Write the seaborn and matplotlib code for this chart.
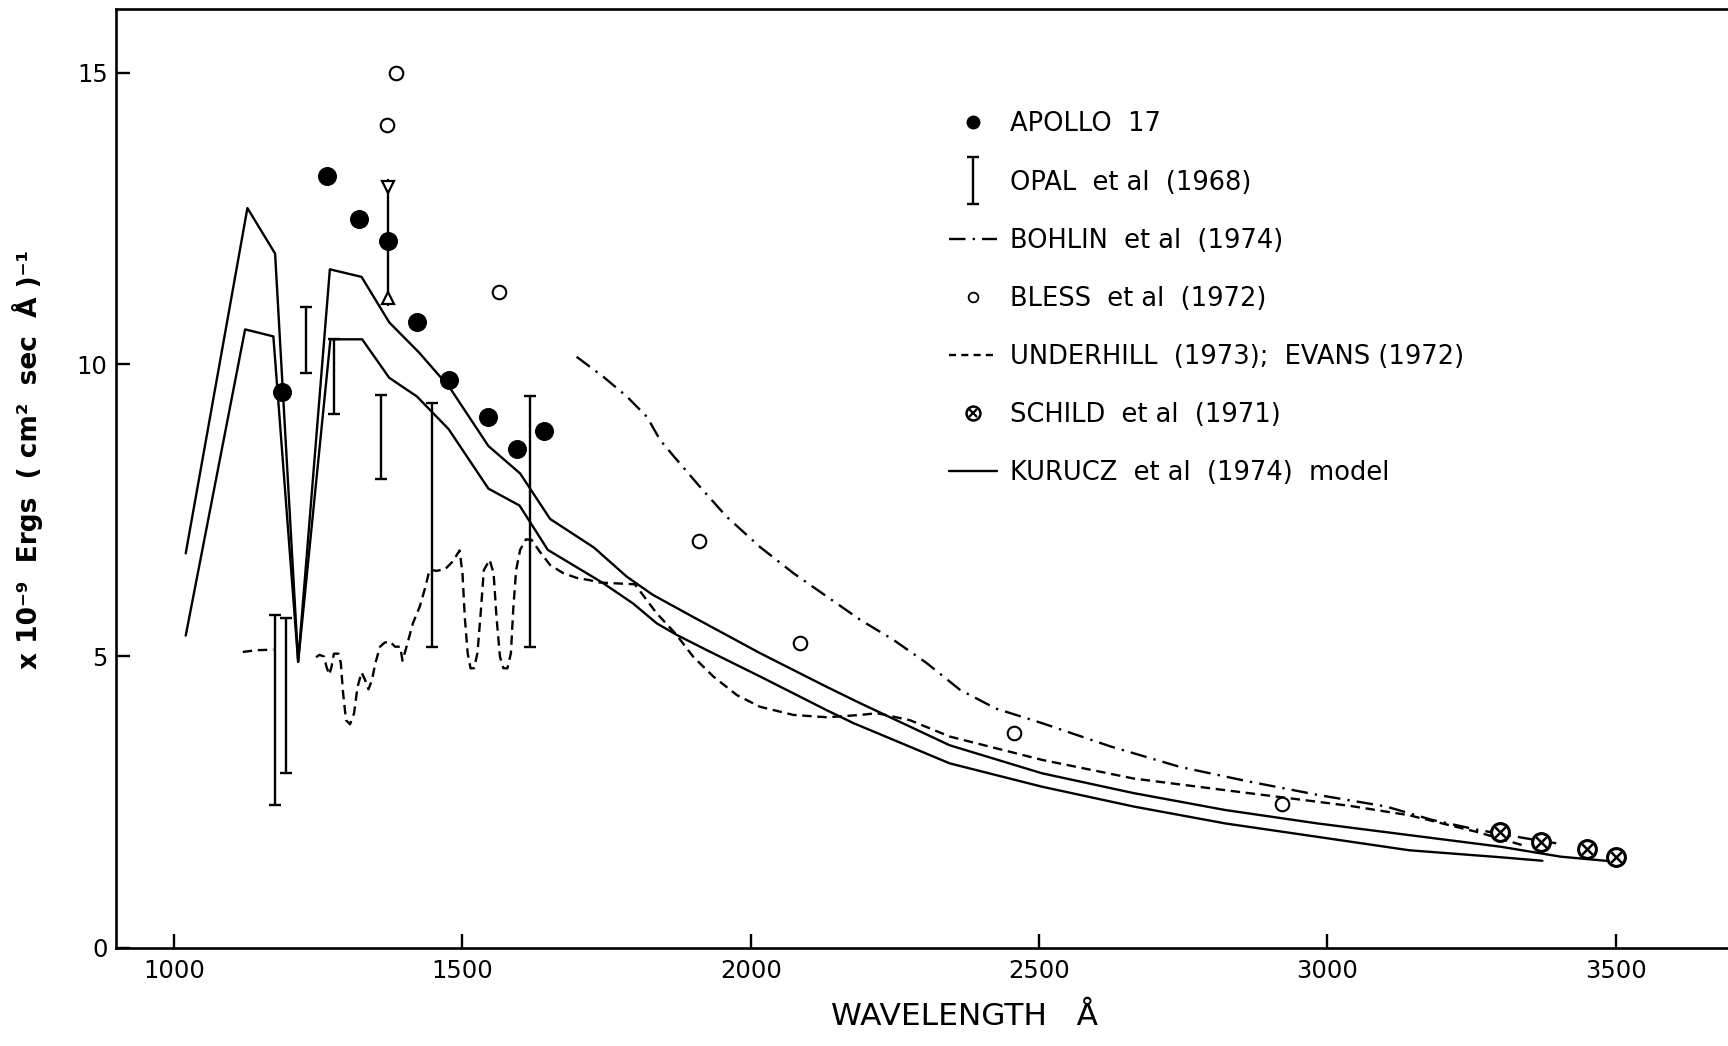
import numpy as np
import pandas as pd
import matplotlib
matplotlib.use("Agg")
import matplotlib.pyplot as plt
from matplotlib.lines import Line2D
from matplotlib.container import ErrorbarContainer
from matplotlib.legend_handler import HandlerErrorbar, HandlerTuple
import seaborn as sns

# ---- Kurucz et al (1974) model fluxes (two model curves) ----
kurucz_hi_wl = [1020, 1127, 1175, 1215, 1270, 1325, 1373, 1425, 1478, 1545, 1600,
                1652, 1728, 1785, 1830, 1900, 2016, 2132, 2190, 2345, 2505, 2664,
                2823, 2983, 3142, 3301, 3405, 3505]
kurucz_hi_flux = [6.76, 12.68, 11.9, 4.9, 11.63, 11.5, 10.72, 10.2, 9.6, 8.6, 8.13,
                  7.35, 6.86, 6.36, 6.05, 5.67, 5.05, 4.47, 4.19, 3.47, 2.99, 2.65,
                  2.36, 2.13, 1.93, 1.73, 1.56, 1.47]

kurucz_lo_wl = [1020, 1123, 1172, 1215, 1271, 1326, 1373, 1421, 1476, 1545, 1599,
                1648, 1744, 1796, 1837, 1872, 1924, 2016, 2132, 2178, 2345, 2505,
                2664, 2823, 2983, 3142, 3301, 3373]
kurucz_lo_flux = [5.35, 10.6, 10.48, 4.9, 10.43, 10.43, 9.77, 9.45, 8.89, 7.87, 7.58,
                  6.82, 6.25, 5.9, 5.56, 5.36, 5.10, 4.65, 4.07, 3.85, 3.16, 2.76,
                  2.42, 2.13, 1.90, 1.67, 1.55, 1.49]

# ---- Underhill (1973); Evans (1972): short piece below Ly-alpha, then main run ----
underhill_a_wl = [1119, 1143, 1172]
underhill_a_flux = [5.07, 5.10, 5.11]

underhill_b_wl = [1246, 1252, 1260, 1264, 1269, 1273, 1277, 1285, 1289, 1293, 1298,
                  1305, 1312, 1318, 1325, 1331, 1337, 1343, 1349, 1357, 1365, 1374,
                  1383, 1392, 1396, 1403, 1414, 1426, 1435, 1443, 1455, 1470, 1483,
                  1495, 1500, 1504, 1509, 1514, 1520, 1526, 1532, 1537, 1547, 1554,
                  1559, 1565, 1571, 1578, 1584, 1588, 1593, 1600, 1610, 1620, 1634,
                  1652, 1675, 1698, 1721, 1738, 1799, 1837, 1869, 1900, 1935, 1976,
                  2016, 2074, 2132, 2190, 2219, 2276, 2345, 2505, 2664, 2823, 2920,
                  3040, 3142, 3261, 3341]
underhill_b_flux = [4.98, 5.02, 4.99, 4.82, 4.68, 4.82, 5.04, 5.04, 4.88, 4.36, 3.90,
                    3.83, 4.02, 4.47, 4.72, 4.59, 4.43, 4.59, 4.88, 5.16, 5.23, 5.25,
                    5.16, 5.16, 4.92, 5.16, 5.56, 5.85, 6.16, 6.48, 6.46, 6.49, 6.62,
                    6.81, 6.42, 5.67, 5.05, 4.79, 4.79, 5.05, 5.79, 6.47, 6.65, 6.42,
                    5.67, 4.99, 4.79, 4.79, 5.05, 5.79, 6.47, 6.82, 7.00, 6.99, 6.79,
                    6.56, 6.42, 6.34, 6.30, 6.26, 6.23, 5.73, 5.39, 4.99, 4.65, 4.33,
                    4.13, 3.99, 3.95, 3.99, 4.02, 3.90, 3.62, 3.22, 2.90, 2.70, 2.58,
                    2.43, 2.27, 1.98, 1.75]

# ---- Bohlin et al (1974) ----
bohlin_wl = [1698, 1744, 1785, 1820, 1843, 1872, 1912, 1958, 2016, 2074, 2132, 2190,
             2247, 2305, 2363, 2425, 2505, 2624, 2744, 2863, 2983, 3102, 3182, 3261,
             3341, 3397]
bohlin_flux = [10.13, 9.79, 9.45, 9.1, 8.7, 8.36, 7.9, 7.39, 6.87, 6.42, 6.02, 5.62,
               5.28, 4.88, 4.42, 4.10, 3.85, 3.45, 3.10, 2.85, 2.62, 2.42, 2.19, 2.02,
               1.88, 1.79]

# ---- Apollo 17 ----
apollo_wl = [1187, 1265, 1321, 1370, 1421, 1477, 1545, 1595, 1642]
apollo_flux = [9.52, 13.23, 12.49, 12.12, 10.72, 9.73, 9.09, 8.55, 8.85]

# range bar through the 1370 A Apollo point
apollo_range_wl = 1370
apollo_range_lo = 11.02
apollo_range_hi = 13.16

# ---- Bless et al (1972) ----
bless_wl = [1384, 1369, 1564, 1910, 2086, 2456, 2921]
bless_flux = [15.0, 14.11, 11.24, 6.97, 5.23, 3.68, 2.46]

# ---- Schild et al (1971) ----
schild_wl = [3300, 3370, 3450, 3500]
schild_flux = [1.99, 1.82, 1.69, 1.56]

# ---- Opal et al (1968): flux ranges ----
opal_wl = [1175, 1194, 1229, 1277, 1358, 1447, 1617]
opal_lo = [2.45, 3.00, 9.85, 9.15, 8.04, 5.15, 5.15]
opal_hi = [5.70, 5.65, 10.98, 10.43, 9.48, 9.33, 9.46]

xticks = [1000, 1500, 2000, 2500, 3000, 3500]
yticks = [0, 5, 10, 15]

sns.set_style("ticks")
plt.rcParams["font.family"] = ["DejaVu Sans"]
plt.rcParams["text.color"] = "k"
plt.rcParams["axes.labelcolor"] = "k"
plt.rcParams["xtick.color"] = "k"
plt.rcParams["ytick.color"] = "k"

fig = plt.figure(figsize=(17.28, 10.46), dpi=100)
ax = fig.add_axes([0.0671, 0.094, 0.9346, 0.8978])

LW = 1.7
dash = (0, (4, 2.4))
dashdot = (0, (7, 3, 1, 3))

# model curves
for wl, fl in [(kurucz_hi_wl, kurucz_hi_flux), (kurucz_lo_wl, kurucz_lo_flux)]:
    sns.lineplot(x=wl, y=fl, ax=ax, color="k", lw=LW, estimator=None, sort=False)

# observed spectra
for wl, fl in [(underhill_a_wl, underhill_a_flux), (underhill_b_wl, underhill_b_flux)]:
    sns.lineplot(x=wl, y=fl, ax=ax, color="k", lw=LW, linestyle=dash,
                 estimator=None, sort=False)
sns.lineplot(x=bohlin_wl, y=bohlin_flux, ax=ax, color="k", lw=LW,
             linestyle=dashdot, estimator=None, sort=False)

# Opal ranges
opal_mid = (np.array(opal_lo) + np.array(opal_hi)) / 2
opal_half = (np.array(opal_hi) - np.array(opal_lo)) / 2
opal = ax.errorbar(opal_wl, opal_mid, yerr=opal_half, fmt="none", ecolor="k",
                   elinewidth=1.7, capsize=4, capthick=1.7)

# range bar with triangle ends at 1370 A
ax.plot([apollo_range_wl, apollo_range_wl], [apollo_range_lo, apollo_range_hi],
        color="k", lw=1.7)
ax.plot([apollo_range_wl], [apollo_range_hi - 0.12], marker="v", ms=9,
        mfc="white", mec="k", mew=1.6, ls="none")
ax.plot([apollo_range_wl], [apollo_range_lo + 0.12], marker="^", ms=9,
        mfc="white", mec="k", mew=1.6, ls="none")

# point data
sns.scatterplot(x=apollo_wl, y=apollo_flux, ax=ax, color="k", s=160,
                marker="o", edgecolor="k", zorder=5)
sns.scatterplot(x=bless_wl, y=bless_flux, ax=ax, facecolor="white", s=95,
                marker="o", edgecolor="k", linewidth=1.5, zorder=5)
sns.scatterplot(x=schild_wl, y=schild_flux, ax=ax, facecolor="white", s=165,
                marker="o", edgecolor="k", linewidth=2.2, zorder=5)
sns.scatterplot(x=schild_wl, y=schild_flux, ax=ax, color="k", s=60,
                marker="x", linewidth=1.8, zorder=6)

# axes
ax.set_xlim(899, 3700)
ax.set_ylim(0, 16.1)
ax.set_xticks(xticks)
ax.set_yticks(yticks)
ax.tick_params(direction="in", length=10, width=1.7, labelsize=17.5, pad=8)
ax.tick_params(axis="y", pad=6)
for side in ["left", "bottom", "top"]:
    ax.spines[side].set_linewidth(1.9)
    ax.spines[side].set_color("k")
ax.spines["right"].set_visible(False)
ax.set_facecolor("white")

ax.set_xlabel("WAVELENGTH   Å", fontsize=22.5)
ax.xaxis.set_label_coords((2370 - 899) / (3700 - 899), -0.058)
ax.set_ylabel("x 10⁻⁹  Ergs  ( cm²  sec  Å )⁻¹", fontsize=19, fontweight="bold")
ax.yaxis.set_label_coords(-0.045, 0.52)

# legend
handles = [
    Line2D([], [], ls="none", marker="o", ms=9, color="k"),
    opal,
    Line2D([], [], color="k", lw=LW, linestyle=dashdot),
    Line2D([], [], ls="none", marker="o", ms=7, mfc="white", mec="k", mew=1.3),
    Line2D([], [], color="k", lw=LW, linestyle=(0, (3, 2.2))),
    (Line2D([], [], ls="none", marker="o", ms=10, mfc="white", mec="k", mew=1.8),
     Line2D([], [], ls="none", marker="x", ms=5.5, color="k", mew=1.6)),
    Line2D([], [], color="k", lw=LW),
]
labels = [
    "APOLLO  17",
    "OPAL  et al  (1968)",
    "BOHLIN  et al  (1974)",
    "BLESS  et al  (1972)",
    "UNDERHILL  (1973);  EVANS (1972)",
    "SCHILD  et al  (1971)",
    "KURUCZ  et al  (1974)  model",
]
ax.legend(handles, labels, loc="upper left", bbox_to_anchor=(0.516, 0.8905),
          frameon=False, fontsize=18.5, handlelength=1.85, handletextpad=0.5,
          labelspacing=1.25, borderpad=0, borderaxespad=0,
          handler_map={ErrorbarContainer: HandlerErrorbar(yerr_size=0.9),
                       tuple: HandlerTuple(ndivide=1)})

fig.savefig("out.png", dpi=100, facecolor="white")
